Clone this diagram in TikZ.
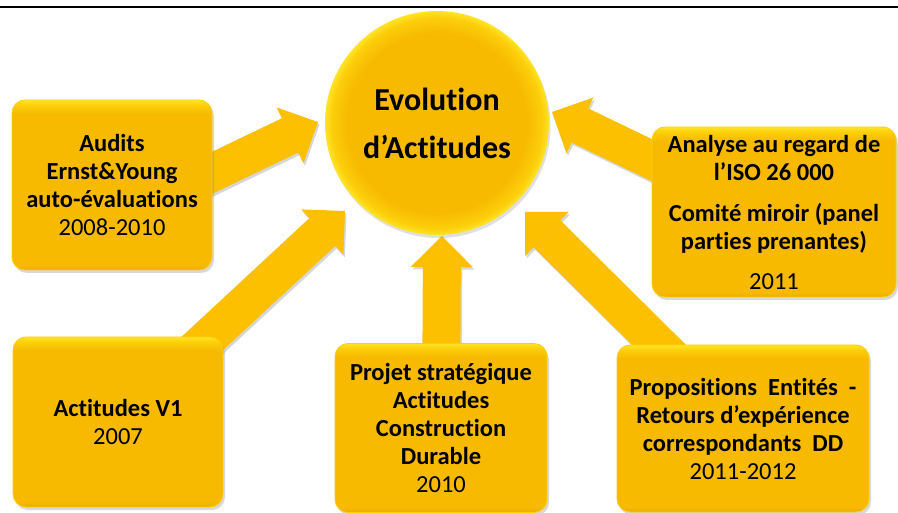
\documentclass[tikz,border=0pt]{standalone}
\usepackage{fontspec}
\setmainfont{Carlito}[Ligatures=NoCommon]
\usetikzlibrary{arrows.meta,shadows,backgrounds}

\definecolor{boxbase}{RGB}{247,186,0}
\definecolor{boxmid}{RGB}{252,206,10}
\definecolor{boxlight}{RGB}{255,228,40}
\definecolor{boxdark}{RGB}{236,172,0}
\definecolor{arrowfill}{RGB}{252,192,0}

% flat body with a bright bevel along the top edge
\pgfdeclareverticalshading{boxshade}{100bp}{color(0bp)=(boxdark); color(25bp)=(boxdark); color(26.5bp)=(boxbase); color(71bp)=(boxbase); color(73.5bp)=(boxmid); color(75bp)=(boxlight); color(100bp)=(boxlight)}
% disc with a bright rim
\pgfdeclareradialshading{discshade}{\pgfpoint{0bp}{0bp}}{color(0bp)=(boxbase); color(20bp)=(boxbase); color(23.5bp)=(boxmid); color(25bp)=(boxlight); color(50bp)=(boxlight)}

\newcommand\cardfont{\fontsize{24.5}{28}\selectfont\bfseries}
\newcommand\hubfont{\fontsize{32}{48}\selectfont\bfseries}

\tikzset{
  card/.style={rectangle, rounded corners=13pt, shade, shading=boxshade,
    draw=boxmid, line width=0.8pt, minimum height=170pt, inner sep=0pt,
    align=center, font=\cardfont,
    drop shadow={shadow xshift=2pt, shadow yshift=-3pt, opacity=0.3}},
  hub/.style={circle, minimum size=224pt, inner sep=0pt, shade, shading=discshade,
    align=center, font=\hubfont,
    drop shadow={shadow xshift=1.5pt, shadow yshift=-3pt, opacity=0.25}},
  blockarrow/.style={draw=arrowfill, line width=38pt,
    -{Triangle[length=31pt, width=62pt, line width=0pt]}, shorten <=-22pt},
  blockshadow/.style={blockarrow, draw=black, opacity=0.16,
    transform canvas={shift={(1.5pt,-2.5pt)}}},
  rule/.style={draw=black, line width=1.6pt}
}

\begin{document}
\begin{tikzpicture}[x=1pt, y=-1pt]
  \useasboundingbox (0,0) rectangle (898,513);

  % centre disc
  \node[hub] (hub) at (437,123) {Evolution\\d’Actitudes};

  % surrounding cards
  \node[card, minimum width=200pt] (audits) at (112,185)
    {Audits\\Ernst\&Young\\auto-évaluations\\{\mdseries 2008-2010}};
  \node[card, minimum width=244pt] (analyse) at (774,212)
    {Analyse au regard de\\l’ISO 26 000\\[13pt]Comité miroir (panel\\parties prenantes)\\[12pt]{\mdseries 2011}};
  \node[card, minimum width=210pt] (actv1) at (118,422)
    {Actitudes V1\\{\mdseries 2007}};
  \node[card, minimum width=212pt, minimum height=169pt] (projet) at (441,428)
    {Projet stratégique\\Actitudes\\Construction\\Durable\\{\mdseries 2010}};
  \node[card, minimum width=252pt, minimum height=167pt] (prop) at (743,428.5)
    {Propositions~~Entités~~-\\Retours d’expérience\\correspondants~~DD\\{\mdseries 2011-2012}};

  % arrow heads stop just short of the disc
  \coordinate (tipA) at (318,122);
  \coordinate (tipB) at (345,211);
  \coordinate (tipC) at (442,236);
  \coordinate (tipD) at (525,212);
  \coordinate (tipE) at (552,112);

  % header rule
  \draw[rule] (0,7) -- (898,7);

  \begin{pgfonlayer}{background}
    \fill[white] (0,0) rectangle (898,513);
    \foreach \src/\dst in {audits.7/tipA, actv1/tipB, projet/tipC, prop/tipD, analyse.157/tipE}
      \draw[blockshadow] (\src) -- (\dst);
    \foreach \src/\dst in {audits.7/tipA, actv1/tipB, projet/tipC, prop/tipD, analyse.157/tipE}
      \draw[blockarrow] (\src) -- (\dst);
  \end{pgfonlayer}
\end{tikzpicture}
\end{document}
